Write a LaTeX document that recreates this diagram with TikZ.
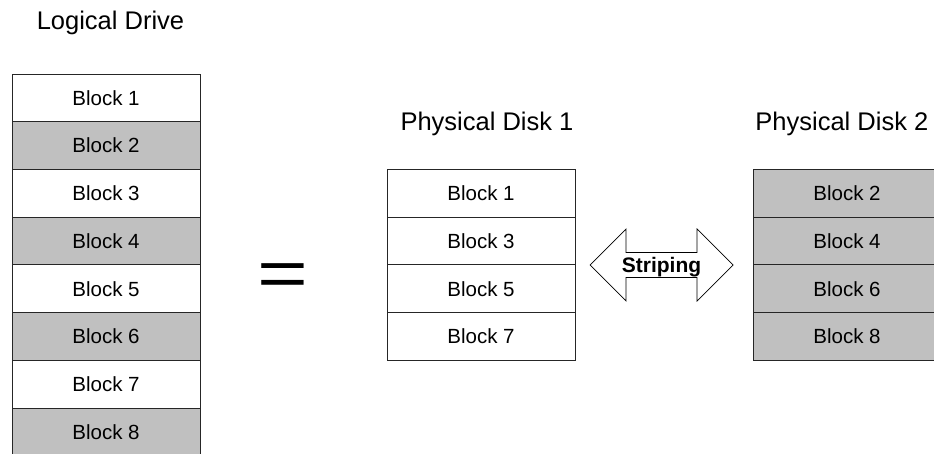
\documentclass[tikz,border=0pt]{standalone}
\usepackage{fontspec}
\setmainfont{Liberation Sans}
\definecolor{blkgray}{RGB}{192,192,192}
\begin{document}
\begin{tikzpicture}
  [x=1pt,y=-1pt,line width=0.9pt,
   every node/.style={inner sep=0pt},
   blk/.style={draw=black!85,minimum width=188pt,minimum height=47.7pt,
     font=\fontsize{20.5}{24}\selectfont},
   odd/.style={blk,fill=white},
   even/.style={blk,fill=blkgray},
   title/.style={anchor=base,font=\fontsize{25.5}{29}\selectfont}]
  \useasboundingbox (0,0) rectangle (934,454);

  % logical drive
  \node[title] (tl) at (110.5,30) {Logical Drive};
  \node[odd]  (l1) at (106,97.9)  {Block 1};
  \node[even] (l2) at (106,145.6) {Block 2};
  \node[odd]  (l3) at (106,193.3) {Block 3};
  \node[even] (l4) at (106,241)   {Block 4};
  \node[odd]  (l5) at (106,288.7) {Block 5};
  \node[even] (l6) at (106,336.4) {Block 6};
  \node[odd]  (l7) at (106,384.1) {Block 7};
  \node[even] (l8) at (106,431.8) {Block 8};

  \node[anchor=base,font=\fontsize{67}{70}\selectfont] (eq) at (283,296)
    {\scalebox{1.3}[1]{=}};

  % disk 1
  \node[title] (t1) at (487,131) {Physical Disk 1};
  \node[odd] (a1) at (481,193.3) {Block 1};
  \node[odd] (a3) at (481,241)   {Block 3};
  \node[odd] (a5) at (481,288.7) {Block 5};
  \node[odd] (a7) at (481,336.4) {Block 7};

  % disk 2
  \node[title,anchor=base west] (t2) at (755,131) {Physical Disk 2};
  \node[even] (b2) at (847,193.3) {Block 2};
  \node[even] (b4) at (847,241)   {Block 4};
  \node[even] (b6) at (847,288.7) {Block 6};
  \node[even] (b8) at (847,336.4) {Block 8};

  % striping arrow
  \coordinate (axis) at (661.5,265);
  \draw[line width=0.7pt,fill=white] (axis) ++(-71.5,0)
    -- ++(36,-36) -- ++(0,23.5) -- ++(71,0) -- ++(0,-23.5)
    -- ++(36,36) -- ++(-36,36) -- ++(0,-23.5) -- ++(-71,0)
    -- ++(0,23.5) -- cycle;
  \node[anchor=base,font=\bfseries\fontsize{21}{24}\selectfont] (strp)
    at ([yshift=-7.5pt]axis) {Striping};
\end{tikzpicture}
\end{document}
